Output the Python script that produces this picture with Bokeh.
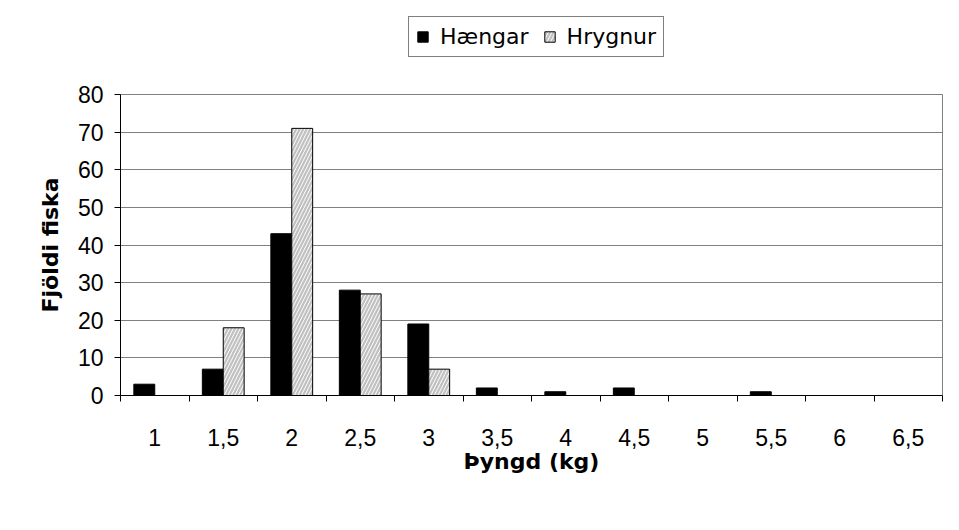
from bokeh.plotting import figure
from bokeh.layouts import column
from bokeh.models import (Range1d, FixedTicker, Legend, LegendItem, ColumnDataSource)
from bokeh.embed import file_html
from bokeh.resources import INLINE

# ---- data ----
weights = ["1", "1,5", "2", "2,5", "3", "3,5", "4", "4,5", "5", "5,5", "6", "6,5"]
haengar = [3, 7, 43, 28, 19, 2, 1, 2, 0, 1, 0, 0]
hrygnur = [0, 18, 71, 27, 7, 0, 0, 0, 0, 0, 0, 0]
y_ticks = [0, 10, 20, 30, 40, 50, 60, 70, 80]
series_names = ["Hængar", "Hrygnur"]

n = len(weights)
centers = [i + 0.5 for i in range(n)]
bw = 0.305

W = 943
H_LEG = 82
H_MAIN = 432

tick_font = "Liberation Sans"
title_font = "DejaVu Sans"

style_h = dict(fill_color="black", line_color="black", line_width=1)
style_r = dict(fill_color="#c0c0c0", line_color="black", line_width=1,
               hatch_pattern="/", hatch_color="white", hatch_scale=7, hatch_weight=1.0)

src1 = ColumnDataSource(dict(x=[c - bw / 2 for c in centers], top=haengar))
src2 = ColumnDataSource(dict(x=[c + bw / 2 for c in centers], top=hrygnur))

# ---------------- main chart ----------------
p = figure(width=W, height=H_MAIN, output_backend="svg", toolbar_location=None,
           x_range=Range1d(0, n), y_range=Range1d(0, max(y_ticks)),
           min_border_left=120, min_border_right=1, min_border_top=12, min_border_bottom=119)
p.background_fill_color = "white"
p.border_fill_color = "white"
p.outline_line_color = "#808080"
p.outline_line_width = 1

p.vbar(x="x", top="top", bottom=0, width=bw, source=src1, **style_h)
p.vbar(x="x", top="top", bottom=0, width=bw, source=src2, **style_r)

p.xgrid.visible = False
p.ygrid.grid_line_color = "#808080"
p.ygrid.grid_line_width = 1

xa = p.xaxis[0]
xa.ticker = FixedTicker(ticks=centers, minor_ticks=list(range(n + 1)))
xa.major_label_overrides = {c: lab for c, lab in zip(centers, weights)}
xa.major_tick_out = 0
xa.major_tick_in = 0
xa.minor_tick_out = 6
xa.minor_tick_in = 0
xa.minor_tick_line_color = "black"
xa.axis_line_color = "black"
xa.major_label_text_font = tick_font
xa.major_label_text_font_size = "23px"
xa.major_label_text_color = "black"
xa.major_label_standoff = 27
xa.axis_label = "Þyngd (kg)"
xa.axis_label_text_font = title_font
xa.axis_label_text_font_style = "bold"
xa.axis_label_text_font_size = "22px"
xa.axis_label_text_color = "black"
xa.axis_label_standoff = 0

ya = p.yaxis[0]
ya.ticker = FixedTicker(ticks=y_ticks, minor_ticks=[])
ya.major_tick_out = 6
ya.major_tick_in = 0
ya.major_tick_line_color = "black"
ya.axis_line_color = "black"
ya.major_label_text_font = tick_font
ya.major_label_text_font_size = "23px"
ya.major_label_text_color = "black"
ya.major_label_standoff = 11
ya.axis_label = "Fjöldi fiska"
ya.axis_label_text_font = title_font
ya.axis_label_text_font_style = "bold"
ya.axis_label_text_font_size = "22px"
ya.axis_label_text_color = "black"
ya.axis_label_standoff = 12

# ---------------- legend strip ----------------
# The same two series are drawn here at a tiny scale that sits entirely
# behind the opaque legend box, so only the legend is visible.
lf = figure(width=W, height=H_LEG, output_backend="svg", toolbar_location=None,
            x_range=Range1d(-16.97, 27.8), y_range=Range1d(-144, 148),
            x_axis_type=None, y_axis_type=None, min_border=0)
lf.outline_line_color = None
lf.background_fill_color = "white"
lf.border_fill_color = "white"
lf.xgrid.visible = False
lf.ygrid.visible = False
lr1 = lf.vbar(x="x", top="top", bottom=0, width=bw, source=src1, **style_h)
lr2 = lf.vbar(x="x", top="top", bottom=0, width=bw, source=src2, **style_r)

legend = Legend(items=[LegendItem(label=series_names[0], renderers=[lr1], index=0),
                       LegendItem(label=series_names[1], renderers=[lr2], index=0)],
                orientation="horizontal", location=(288, 25),
                border_line_color="black", border_line_width=1,
                background_fill_color="white", background_fill_alpha=1,
                padding=7, spacing=14, label_standoff=11, margin=0,
                glyph_width=13, glyph_height=13,
                label_text_font=title_font, label_text_font_size="22px",
                label_text_color="black")
lf.add_layout(legend, "center")

layout = column(lf, p, spacing=0)
open("out.html", "w").write(file_html(layout, INLINE))
